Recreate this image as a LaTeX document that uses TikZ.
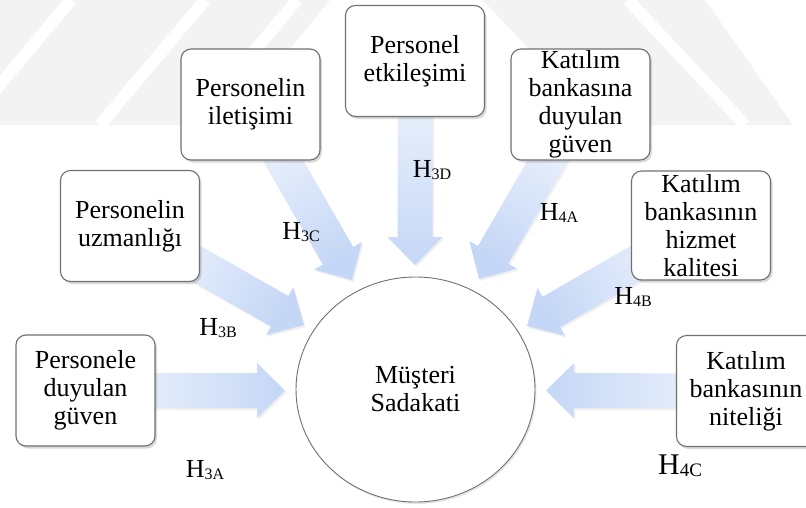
\documentclass[tikz,border=0pt]{standalone}
\usepackage{fontspec}
\setmainfont{Liberation Serif}
\usetikzlibrary{calc,shadows,shapes.geometric,backgrounds}
\definecolor{arrblue}{RGB}{197,215,246}
\definecolor{arrtail}{RGB}{242,246,253}
\definecolor{boxline}{RGB}{112,112,112}
\definecolor{wmark}{RGB}{243,243,243}
\tikzset{
 box/.style={draw=boxline, line width=1.1pt, fill=white, rounded corners=10pt,
   minimum width=139pt, minimum height=111pt, inner sep=0pt, align=center,
   font=\fontsize{26}{28}\selectfont,
   drop shadow={shadow xshift=2pt, shadow yshift=-2.5pt, opacity=0.3}},
 hlab/.style={inner sep=0pt, font=\fontsize{26}{28}\selectfont},
 hbig/.style={inner sep=0pt, font=\fontsize{30}{32}\selectfont},
 wm/.style={fill=wmark, draw=none},
 wmgap/.style={draw=white, line width=12pt},
}
\newcommand{\hsub}[1]{H\raisebox{-1.5pt}{\fontsize{16}{16}\selectfont #1}}
\newcommand{\hsubbig}[1]{H\raisebox{-1.5pt}{\fontsize{19}{19}\selectfont #1}}
\newcommand{\fatarr}[3]{%
 \coordinate (n-#2) at ($(#2)!28pt!(#1)$);
 \shade[top color=arrblue, bottom color=arrtail, shading angle=#3,
   drop shadow={shadow xshift=1.5pt, shadow yshift=-2pt, opacity=0.12}]
 ($(#1)!17.5pt!90:(#2)$) -- ($(n-#2)!17.5pt!90:(#2)$) -- ($(n-#2)!27.5pt!90:(#2)$)
 -- (#2) -- ($(n-#2)!27.5pt!-90:(#2)$) -- ($(n-#2)!17.5pt!-90:(#2)$)
 -- ($(#1)!17.5pt!-90:(#2)$) -- cycle;
}
\begin{document}
\begin{tikzpicture}[x=1pt,y=-1pt]
\useasboundingbox (0,0) rectangle (806,507);
% boxes
\node[box] (b1) at (85.5,390.5) {Personele\\duyulan\\güven};
\node[box] (b2) at (130,226) {Personelin\\uzmanlığı};
\node[box] (b3) at (250.5,104.5) {Personelin\\iletişimi};
\node[box] (b4) at (415,61) {Personel\\etkileşimi};
\node[box] (b5) at (580.5,104.5) {Katılım\\bankasına\\duyulan\\güven};
\node[box, minimum height=109pt] (b6) at (701,225.5) {Katılım\\bankasının\\hizmet\\kalitesi};
\node[box] (b7) at (746,391) {Katılım\\bankasının\\niteliği};
% centre
\node[ellipse, draw=boxline, line width=0.9pt, fill=white, minimum width=239pt,
  minimum height=225pt, inner sep=0pt, align=center, font=\fontsize{26}{28}\selectfont,
  drop shadow={shadow xshift=1.5pt, shadow yshift=-2pt, opacity=0.2}]
  (c) at (415.5,389.5) {Müşteri\\Sadakati};
% arrow tips
\coordinate (t1) at (285,390.5);
\coordinate (t2) at (304,325);
\coordinate (t3) at (352,280);
\coordinate (t4) at (415,265);
\coordinate (t5) at (479,279);
\coordinate (t6) at (527,326);
\coordinate (t7) at (546,390.5);
\begin{scope}[on background layer]
% faint watermark
\fill[wm] (0,0) -- (330,0) -- (228,125) -- (0,125) -- cycle;
\draw[wmgap] (71,0) -- (-34,125);
\draw[wmgap] (205,0) -- (100,125);
\draw[wmgap] (297,0) -- (192,125);
\fill[wm] (483,0) -- (705,0) -- (793,125) -- (600,125) -- cycle;
\draw[wmgap] (628,0) -- (745,125);
\fatarr{b1.center}{t1}{-90}
\fatarr{b2.center}{t2}{-119.6}
\fatarr{b3.center}{t3}{-150}
\fatarr{b4.center}{t4}{-180}
\fatarr{b5.center}{t5}{150}
\fatarr{b6.center}{t6}{120}
\fatarr{b7.center}{t7}{90}
\end{scope}
% labels
\node[hlab] (h3a) at (205,470) {\hsub{3A}};
\node[hlab] (h3b) at (218,328) {\hsub{3B}};
\node[hlab] (h3c) at (301,232) {\hsub{3C}};
\node[hlab] (h3d) at (432,170) {\hsub{3D}};
\node[hlab] (h4a) at (559,213) {\hsub{4A}};
\node[hlab] (h4b) at (633,297) {\hsub{4B}};
\node[hbig] (h4c) at (680,466) {\hsubbig{4C}};
\end{tikzpicture}
\end{document}
